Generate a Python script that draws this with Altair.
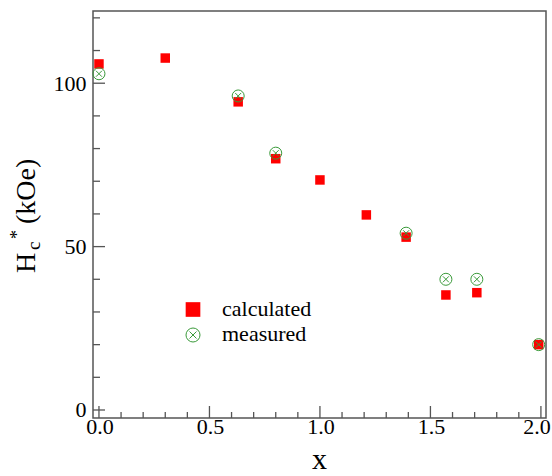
import altair as alt
import pandas as pd

# ---- data ----
calc_x = [0.0, 0.30, 0.63, 0.80, 1.00, 1.21, 1.39, 1.57, 1.71, 1.99]
calc_y = [105.9, 107.7, 94.3, 76.9, 70.4, 59.7, 52.9, 35.2, 35.9, 20.0]
meas_x = [0.0, 0.63, 0.80, 1.39, 1.57, 1.71, 1.99]
meas_y = [102.9, 96.1, 78.6, 54.1, 40.0, 40.0, 20.0]

x_major = [0.0, 0.5, 1.0, 1.5, 2.0]
x_minor = [0.1, 0.2, 0.3, 0.4, 0.6, 0.7, 0.8, 0.9, 1.1, 1.2, 1.3, 1.4,
           1.6, 1.7, 1.8, 1.9]
y_major = [0, 50, 100]
y_minor = [10, 20, 30, 40, 60, 70, 80, 90, 110, 120]

series_names = ["calculated", "measured"]

FONT = "Liberation Serif"
W, H = 453, 407
RED = "#ff0000"
GREEN = "#3a9a3a"
TICK = "#555555"
XPATH = "M -0.5 -0.5 L 0.5 0.5 M -0.5 0.5 L 0.5 -0.5"

calc_df = pd.DataFrame({"x": calc_x, "y": calc_y})
meas_df = pd.DataFrame({"x": meas_x, "y": meas_y})
one = pd.DataFrame({"a": [0]})

xscale = alt.Scale(domain=[-0.027, 2.023], nice=False, zero=False)
yscale = alt.Scale(domain=[-2.45, 122.1], nice=False, zero=False)

yaxis = alt.Axis(values=y_major, format="d", ticks=False, tickSize=0,
                 domain=False, grid=False, labelFont=FONT, labelFontSize=22,
                 labelColor="black", labelPadding=7, title=None)

X = alt.X("x:Q", scale=xscale, axis=None)
Y = alt.Y("y:Q", scale=yscale, axis=yaxis)

calc = alt.Chart(calc_df).mark_square(color=RED, size=90, opacity=1).encode(x=X, y=Y)
meas_c = alt.Chart(meas_df).mark_point(
    shape="circle", filled=False, stroke=GREEN, strokeWidth=1, size=144, opacity=1
).encode(x=X, y=Y)
meas_x_mark = alt.Chart(meas_df).mark_point(
    shape=XPATH, filled=False, stroke=GREEN, strokeWidth=1, size=144, opacity=1
).encode(x=X, y=Y)


def xticks(vals, length):
    return alt.Chart(pd.DataFrame({"x": vals})).mark_rule(
        color=TICK, strokeWidth=1.3
    ).encode(x=X, y=alt.value(H), y2=alt.value(H - length))


def yticks(vals, length):
    return alt.Chart(pd.DataFrame({"y": vals})).mark_rule(
        color=TICK, strokeWidth=1.3
    ).encode(y=Y, x=alt.value(0), x2=alt.value(length))


def xlabels(vals, dx):
    return alt.Chart(pd.DataFrame({"x": vals})).mark_text(
        font=FONT, fontSize=22, color="black", align="center",
        baseline="alphabetic", dx=dx
    ).encode(x=X, y=alt.value(H + 16), text=alt.Text("x:Q", format=".1f"))


def label(text, x, y, size, angle=0, align="left"):
    kw = dict(text=text, font=FONT, fontSize=size, color="black",
              align=align, baseline="alphabetic")
    if angle:
        kw["angle"] = angle
    return alt.Chart(one).mark_text(**kw).encode(x=alt.value(x), y=alt.value(y))


# axis titles
x_title = label("x", W / 2, 458, 30, align="center")
y_title = [
    label("H", -58, 262, 28, angle=270),
    label("c", -53, 239, 19, angle=270),
    label("*", -70, 228, 18, angle=270),
    label("(kOe)", -58, 213, 28, angle=270),
]

# legend
leg_sq = alt.Chart(one).mark_square(color=RED, size=215, opacity=1).encode(
    x=alt.value(100), y=alt.value(298.5))
leg_c = alt.Chart(one).mark_point(shape="circle", filled=False, stroke=GREEN,
                                  strokeWidth=1, size=196, opacity=1).encode(
    x=alt.value(100), y=alt.value(324))
leg_x = alt.Chart(one).mark_point(shape=XPATH, filled=False, stroke=GREEN,
                                  strokeWidth=1, size=196, opacity=1).encode(
    x=alt.value(100), y=alt.value(324))
leg_t1 = label(series_names[0], 129, 305, 22)
leg_t2 = label(series_names[1], 129, 330, 22)

chart = alt.layer(
    calc,
    xticks(x_major, 12), xticks(x_minor, 6),
    yticks(y_major, 12), yticks(y_minor, 7),
    xlabels(x_major[:-1], 1), xlabels(x_major[-1:], -4),
    meas_c, meas_x_mark,
    x_title, *y_title,
    leg_sq, leg_c, leg_x, leg_t1, leg_t2,
).properties(
    width=W, height=H,
    autosize=alt.AutoSizeParams(type="none"),
    padding={"left": 93, "top": 11, "right": 6, "bottom": 58},
    background="white",
).configure_view(stroke=TICK, strokeWidth=1.5)

chart.save("out.html", embed_options={"renderer": "svg", "actions": False})
